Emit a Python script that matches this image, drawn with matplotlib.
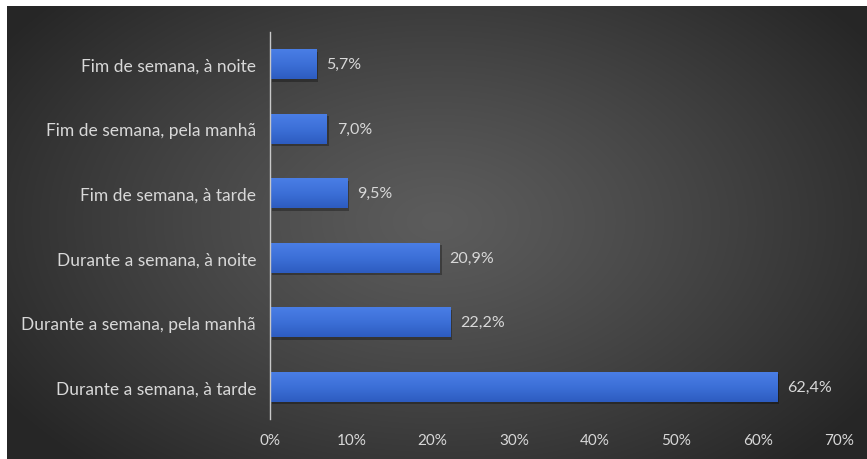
import matplotlib.pyplot as plt
import numpy as np

# Periodo preferido (percentagem de respostas)
categorias = ['Durante a semana, à tarde', 'Durante a semana, pela manhã',
              'Durante a semana, à noite', 'Fim de semana, à tarde',
              'Fim de semana, pela manhã', 'Fim de semana, à noite']
valores = [62.4, 22.2, 20.9, 9.5, 7.0, 5.7]
rotulos = ['62,4%', '22,2%', '20,9%', '9,5%', '7,0%', '5,7%']
ticks = [0, 10, 20, 30, 40, 50, 60, 70]

plt.rcParams['font.family'] = ['Lato', 'DejaVu Sans']
texto = '#d8d8d8'

fig = plt.figure(figsize=(8.67, 4.6), dpi=100, facecolor='white')

# fundo escuro com gradiente radial
bg = fig.add_axes([7 / 867, 0, 860 / 867, 453 / 460])
yy, xx = np.mgrid[0:453, 0:860]
r = np.sqrt(((xx - 430) / 520) ** 2 + ((yy - 215) / 330) ** 2)
r = np.clip(r, 0, 1)
cor = 0.36 - 0.21 * r ** 1.2
bg.imshow(np.dstack([cor, cor, cor]), aspect='auto', interpolation='bilinear')
bg.axis('off')

ax = fig.add_axes([270 / 867, 40 / 460, 569 / 867, 387 / 460])
ax.patch.set_alpha(0)
y = np.arange(len(categorias))
barras = ax.barh(y, valores, height=0.47, color='#3a6bd4', zorder=3)

# sombra e brilho das barras
cmap = plt.matplotlib.colors.LinearSegmentedColormap.from_list(
    'b', ['#2d5cc0', '#3d70d8', '#4a7fe6'])
for b in barras:
    x0, y0 = b.get_x(), b.get_y()
    w, h = b.get_width(), b.get_height()
    ax.add_patch(plt.Rectangle((x0 + 0.2, y0 - 0.04), w, h, color='black',
                               alpha=0.3, zorder=2, lw=0))
    grad = np.linspace(0, 1, 50).reshape(-1, 1)
    img = ax.imshow(grad, extent=(x0, x0 + w, y0, y0 + h), aspect='auto',
                    cmap=cmap, zorder=4, origin='lower')
    img.set_clip_path(b)

for yi, v, t in zip(y, valores, rotulos):
    ax.text(v + 1.2, yi, t, va='center', ha='left', color=texto, fontsize=11.5)

ax.set_xlim(0, 70)
ax.set_ylim(-0.5, len(categorias) - 0.5)
ax.set_xticks(ticks)
ax.set_xticklabels([f'{t}%' for t in ticks], color=texto, fontsize=11)
ax.set_yticks(y)
ax.set_yticklabels(categorias, color=texto, fontsize=12.5)
ax.tick_params(axis='x', length=0, pad=10)
ax.tick_params(axis='y', length=0, pad=10)
for s in ['top', 'right', 'bottom']:
    ax.spines[s].set_visible(False)
ax.spines['left'].set_color('#c8c8c8')
ax.spines['left'].set_linewidth(1.0)
ax.spines['left'].set_zorder(5)

fig.savefig('out.png', dpi=100, facecolor=fig.get_facecolor())
